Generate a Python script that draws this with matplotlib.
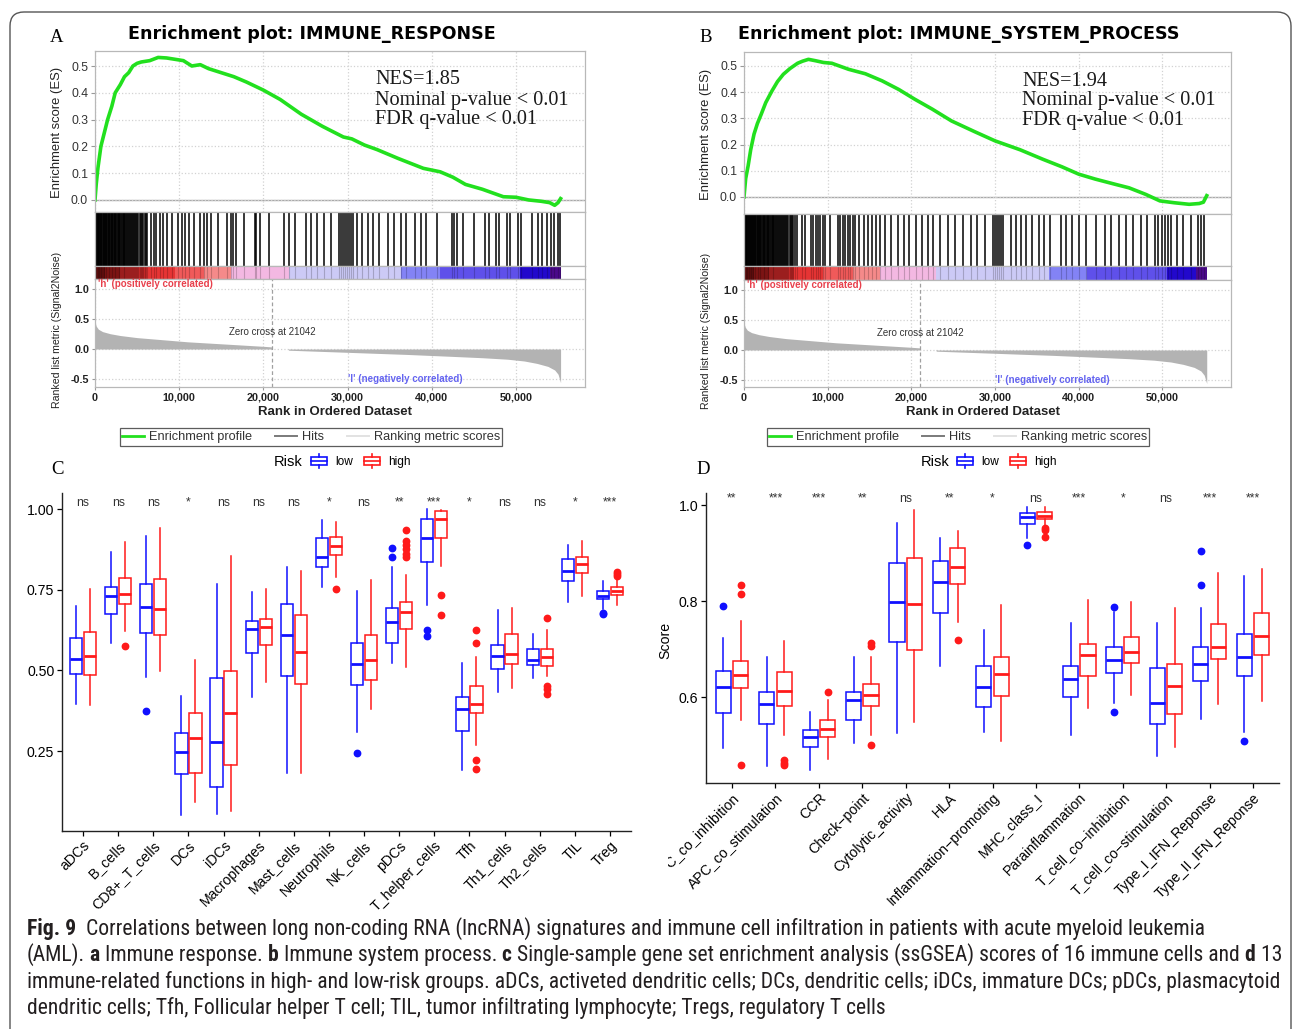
import numpy as np
import matplotlib
matplotlib.use("Agg")
import matplotlib.pyplot as plt
from matplotlib.patches import Rectangle, FancyBboxPatch, Patch
from matplotlib.lines import Line2D
from matplotlib.legend_handler import HandlerBase
from matplotlib.transforms import Bbox, IdentityTransform
from matplotlib.font_manager import FontProperties, fontManager

plt.rcParams['font.family'] = ['Liberation Sans', 'DejaVu Sans']

# ======================= DATA =======================
N_GENES = 55300
ZERO_CROSS = 21042
rank_ticks = [0, 10000, 20000, 30000, 40000, 50000]
rank_tick_labels = ["0", "10,000", "20,000", "30,000", "40,000", "50,000"]
es_ticks = [0.0, 0.1, 0.2, 0.3, 0.4, 0.5]
metric_ticks = [1.0, 0.5, 0.0, -0.5]

# Panel A running enrichment score
es_a_rank = [0, 150, 350, 700, 1100, 1500, 2000, 2400, 3000, 3500, 4000, 4500, 5000, 5500, 6500, 7500,
             8500, 9500, 10500, 11500, 12500, 13500, 15000, 16500, 18000, 20000, 22000, 24500, 27000,
             29500, 30500, 32000, 33500, 36000, 39000, 41000, 42500, 44000, 46000, 48500, 50000, 51500,
             53000, 54000, 54600, 55000, 55300]
es_a_val = [0.0, 0.06, 0.12, 0.2, 0.25, 0.3, 0.35, 0.4, 0.43, 0.46, 0.475, 0.5, 0.51, 0.515, 0.52, 0.532,
            0.53, 0.525, 0.52, 0.5, 0.505, 0.49, 0.475, 0.46, 0.44, 0.41, 0.375, 0.32, 0.275, 0.235,
            0.228, 0.205, 0.188, 0.155, 0.118, 0.105, 0.085, 0.058, 0.04, 0.012, 0.01, 0.0, -0.005,
            -0.01, -0.02, -0.01, 0.005]
hits_a = [30, 90, 160, 220, 300, 380, 450, 520, 600, 690, 760, 850, 930, 1010, 1100, 1180, 1260, 1350,
          1440, 1520, 1610, 1700, 1790, 1880, 1960, 2050, 2150, 2240, 2330, 2420, 2520, 2610, 2700, 2800,
          2900, 3000, 3100, 3200, 3290, 3400, 3500, 3600, 3700, 3820, 3930, 4050, 4160, 4280, 4400, 4530,
          4650, 4780, 4900, 5030, 5150, 5300, 5450, 5600, 5750, 5900, 6050, 6200,
          6600, 7030, 7300, 7680, 8100, 8550, 9200, 9850, 10290, 10720, 11150, 11800, 12460, 12890,
          13320, 13760, 14630, 15710, 16140, 16360, 16800, 17660, 18970, 19180, 19620, 20700, 22440,
          23090, 23740, 25040, 25690, 26340, 27210, 28080, 28950, 29200, 29450, 29700, 29950, 30200,
          30450, 30680, 31120, 31770, 32420, 33070, 33720, 34810, 35460, 36330, 36980, 38060, 38710,
          39360, 40670, 42400, 42620, 43050, 43700, 45010, 46310, 46740, 47610, 48040, 48910, 49350,
          50210, 50650, 51950, 52600, 53040, 53690, 54120, 54550, 54990, 55200]

# Panel B running enrichment score
es_b_rank = [0, 200, 500, 800, 1200, 1600, 2050, 2600, 3350, 4000, 4700, 5500, 6400, 7000, 7700, 8500,
             9500, 10500, 12500, 14500, 16500, 18500, 20400, 22500, 24800, 27500, 30000, 33000, 35700,
             38000, 40000, 42000, 44400, 46000, 48000, 49700, 51400, 53200, 54400, 54900, 55300]
es_b_val = [0.0, 0.07, 0.12, 0.18, 0.24, 0.28, 0.315, 0.36, 0.405, 0.44, 0.468, 0.49, 0.51, 0.518, 0.525,
            0.52, 0.513, 0.51, 0.487, 0.47, 0.443, 0.41, 0.373, 0.335, 0.29, 0.25, 0.214, 0.18, 0.144,
            0.115, 0.087, 0.068, 0.048, 0.035, 0.01, -0.015, -0.022, -0.028, -0.025, -0.02, 0.005]
hits_b = [40, 110, 180, 250, 330, 400, 470, 550, 630, 700, 780, 860, 940, 1020, 1110, 1190, 1270, 1360,
          1450, 1530, 1620, 1710, 1800, 1890, 1970, 2060, 2160, 2250, 2340, 2430, 2530, 2620, 2710, 2810,
          2910, 3010, 3110, 3210, 3300, 3410, 3510, 3610, 3710, 3830, 3940, 4060, 4170, 4290, 4410, 4540,
          4660, 4790, 4910, 5040, 5160, 5310, 5460, 5610, 5760, 5910, 6060, 6300,
          6900, 7300, 7950, 8250, 8550, 8800, 9100, 9400, 9700, 10300, 11200, 11500, 11800, 12100,
          12400, 12700, 13000, 13300, 13800, 14300, 14800, 15300, 15800, 16300, 16900, 17600, 18400,
          19100, 19700, 20600, 21300, 22000, 22600, 23400, 24400, 25200, 26200, 27100, 27900, 28800,
          29700, 29950, 30200, 30450, 30700, 30900, 31900, 32500, 33100, 33700, 34400, 35300, 35900,
          36600, 37900, 38500, 39200, 40000, 40900, 42100, 43200, 43900, 44800, 45600, 46500, 47400,
          48200, 49100, 49500, 49900, 50300, 50700, 51000, 51700, 52500, 53400, 54200, 54600, 55000]

# Ranked list metric (shared by A and B)
metric_rank = [0, 150, 400, 900, 1800, 3000, 5000, 8000, 11000, 14000, 17000, 20000, 21000, 21042,
               22900, 23000, 27000, 32000, 37000, 42000, 46000, 49000, 51000, 52500, 53800, 54600,
               55000, 55300]
metric_val = [0.45, 0.38, 0.33, 0.29, 0.255, 0.225, 0.19, 0.155, 0.12, 0.095, 0.07, 0.045, 0.035, 0.0,
              0.0, -0.02, -0.04, -0.065, -0.09, -0.12, -0.145, -0.17, -0.2, -0.24, -0.29, -0.35,
              -0.42, -0.56]
cbar_edges = [0, 1200, 3000, 6000, 9500, 13000, 16200, 23000, 36400, 41000, 50500, 54000, 55300]
cbar_colors = ['#7a1414', '#a01c1c', '#c82828', '#e63434', '#f05a5a', '#f58a8a', '#f3b8e2',
               '#cccaf6', '#8383f5', '#5f50ea', '#2208cc', '#4a0a8a']

# Panel C: ssGSEA immune cells  [whislo, q1, median, q3, whishi]
c_cats = ["aDCs", "B_cells", "CD8+_T_cells", "DCs", "iDCs", "Macrophages", "Mast_cells", "Neutrophils",
          "NK_cells", "pDCs", "T_helper_cells", "Tfh", "Th1_cells", "Th2_cells", "TIL", "Treg"]
c_low = [[0.397, 0.49, 0.536, 0.599, 0.70], [0.586, 0.676, 0.73, 0.759, 0.868],
         [0.479, 0.616, 0.695, 0.768, 0.917], [0.051, 0.178, 0.247, 0.305, 0.42],
         [0.056, 0.138, 0.278, 0.476, 0.767], [0.418, 0.554, 0.628, 0.653, 0.744],
         [0.183, 0.482, 0.611, 0.705, 0.822], [0.758, 0.82, 0.851, 0.909, 0.965],
         [0.31, 0.455, 0.519, 0.586, 0.747], [0.523, 0.586, 0.649, 0.694, 0.822],
         [0.702, 0.837, 0.91, 0.969, 1.0], [0.191, 0.312, 0.38, 0.419, 0.524],
         [0.433, 0.504, 0.544, 0.578, 0.687], [0.476, 0.516, 0.533, 0.566, 0.612],
         [0.712, 0.777, 0.809, 0.844, 0.889], [0.689, 0.721, 0.732, 0.746, 0.777]]
c_low_out = [[], [], [0.374], [], [], [], [], [], [0.245], [0.881, 0.853], [0.624, 0.608], [], [], [],
             [], [0.679, 0.674]]
c_high = [[0.392, 0.487, 0.545, 0.619, 0.751], [0.622, 0.707, 0.737, 0.787, 0.899],
          [0.497, 0.609, 0.689, 0.782, 0.941], [0.091, 0.181, 0.291, 0.369, 0.531],
          [0.065, 0.207, 0.369, 0.498, 0.855], [0.464, 0.579, 0.635, 0.659, 0.751],
          [0.183, 0.459, 0.557, 0.673, 0.809], [0.79, 0.857, 0.886, 0.913, 0.96],
          [0.379, 0.469, 0.531, 0.611, 0.78], [0.51, 0.628, 0.682, 0.713, 0.796],
          [0.824, 0.91, 0.969, 0.993, 0.998], [0.269, 0.367, 0.397, 0.451, 0.541],
          [0.446, 0.521, 0.552, 0.614, 0.692], [0.484, 0.515, 0.541, 0.565, 0.624],
          [0.73, 0.801, 0.83, 0.851, 0.901], [0.704, 0.733, 0.746, 0.759, 0.785]]
c_high_out = [[], [0.576], [], [], [], [], [], [0.751], [], [0.936, 0.9, 0.889, 0.876, 0.86, 0.853],
              [0.735, 0.671], [0.624, 0.585, 0.222, 0.194], [], [0.661, 0.452, 0.443, 0.428], [],
              [0.806, 0.799, 0.793]]
c_sig = ["ns", "ns", "ns", "*", "ns", "ns", "ns", "*", "ns", "**", "***", "*", "ns", "ns", "*", "***"]
c_yticks = [0.25, 0.50, 0.75, 1.00]

# Panel D: immune-related functions
d_cats = ["APC_co_inhibition", "APC_co_stimulation", "CCR", "Check\u2212point", "Cytolytic_activity",
          "HLA", "Inflammation\u2212promoting", "MHC_class_I", "Parainflammation",
          "T_cell_co\u2212inhibition", "T_cell_co\u2212stimulation", "Type_I_IFN_Reponse",
          "Type_II_IFN_Reponse"]
d_low = [[0.494, 0.567, 0.621, 0.654, 0.722], [0.457, 0.543, 0.585, 0.610, 0.684],
         [0.448, 0.496, 0.516, 0.532, 0.569], [0.504, 0.552, 0.594, 0.610, 0.683],
         [0.525, 0.714, 0.797, 0.88, 0.962], [0.664, 0.776, 0.839, 0.884, 0.932],
         [0.527, 0.579, 0.621, 0.664, 0.74], [0.932, 0.96, 0.976, 0.984, 0.995],
         [0.52, 0.601, 0.638, 0.665, 0.754], [0.588, 0.651, 0.678, 0.704, 0.778],
         [0.478, 0.544, 0.588, 0.66, 0.754], [0.554, 0.634, 0.669, 0.705, 0.785],
         [0.527, 0.644, 0.683, 0.731, 0.852]]
d_low_out = [[0.79], [], [], [], [], [], [], [0.916], [], [0.787, 0.569], [], [0.904, 0.833], [0.509]]
d_high = [[0.552, 0.618, 0.645, 0.675, 0.758], [0.522, 0.581, 0.613, 0.653, 0.716],
          [0.47, 0.517, 0.534, 0.553, 0.594], [0.522, 0.581, 0.605, 0.628, 0.683],
          [0.549, 0.698, 0.793, 0.89, 0.99], [0.757, 0.835, 0.87, 0.911, 0.946],
          [0.508, 0.603, 0.648, 0.684, 0.792], [0.958, 0.971, 0.977, 0.985, 0.995],
          [0.577, 0.643, 0.687, 0.711, 0.803], [0.605, 0.671, 0.694, 0.725, 0.799],
          [0.496, 0.565, 0.624, 0.669, 0.785], [0.585, 0.679, 0.705, 0.752, 0.859],
          [0.592, 0.688, 0.727, 0.776, 0.866]]
d_high_out = [[0.833, 0.814, 0.459], [0.469, 0.463, 0.459], [0.610], [0.712, 0.707, 0.50], [], [0.719],
              [], [0.953, 0.948, 0.934], [], [], [], [], []]
d_sig = ["**", "***", "***", "**", "ns", "**", "*", "ns", "***", "*", "ns", "***", "***"]
d_yticks = [0.6, 0.8, 1.0]

caption_lines = [
    [("Fig. 9", True), ("  Correlations between long non-coding RNA (lncRNA) signatures and immune cell "
                        "infiltration in patients with acute myeloid leukemia", False)],
    [("(AML).", False), (" a", True), (" Immune response.", False), (" b", True),
     (" Immune system process.", False), (" c", True),
     (" Single-sample gene set enrichment analysis (ssGSEA) scores of 16 immune cells and", False),
     (" d", True), (" 13", False)],
    [("immune-related functions in high- and low-risk groups. aDCs, activeted dendritic cells; DCs, "
      "dendritic cells; iDCs, immature DCs; pDCs, plasmacytoid", False)],
    [("dendritic cells; Tfh, Follicular helper T cell; TIL, tumor infiltrating lymphocyte; Tregs, "
      "regulatory T cells", False)],
]

# ======================= STYLE =======================
W, H = 1293, 1029
DPI = 100
GREEN = '#22e01e'
LOW_C = '#1010ff'
HIGH_C = '#ff1a1a'
FRAME = '#b8b8b8'
GRID = '#d2d2d2'
SERIF = ['Liberation Serif', 'DejaVu Serif']

fig = plt.figure(figsize=(W / DPI, H / DPI), dpi=DPI)


def ax_px(x0, y0, x1, y1):
    return fig.add_axes([x0 / W, 1 - y1 / H, (x1 - x0) / W, (y1 - y0) / H])


def ftext(x, y, s, **kw):
    return fig.text(x / W, 1 - y / H, s, **kw)


XMAX = 58200


def style_frame(a):
    for s in a.spines.values():
        s.set_color(FRAME)
        s.set_linewidth(0.9)


def gsea_panel(x0, x1, y_top, y_es, y_hit, y_cb, y_bot, es_lim, rk_lim, es_rank, es_val, hits,
               letter, title, title_x, nes, txt_x, txt_y, leg_cx):
    # --- ES axes
    ax = ax_px(x0, y_top, x1, y_es)
    ax.plot(es_rank, es_val, color=GREEN, lw=2.6, solid_joinstyle='round')
    ax.axhline(0, color='#a9a9a9', lw=1.0, zorder=0)
    ax.set_xlim(0, XMAX)
    ax.set_ylim(*es_lim)
    ax.set_xticks(rank_ticks)
    ax.set_yticks(es_ticks)
    ax.set_yticklabels([f"{v:.1f}" for v in es_ticks])
    ax.grid(True, ls=':', color=GRID, lw=0.9)
    ax.set_axisbelow(True)
    ax.tick_params(axis='x', length=0, labelbottom=False)
    ax.tick_params(axis='y', length=3, color='#999999', labelsize=8.8, labelcolor='#333333', pad=2)
    style_frame(ax)
    # --- hits
    axh = ax_px(x0, y_es, x1, y_hit)
    axh.vlines(hits, 0, 1, color='black', lw=1.1)
    axh.set_xlim(0, XMAX)
    axh.set_ylim(0, 1)
    axh.set_xticks([])
    axh.set_yticks([])
    style_frame(axh)
    # --- colour bar
    axc = ax_px(x0, y_hit, x1, y_cb)
    for i, col in enumerate(cbar_colors):
        axc.axvspan(cbar_edges[i], cbar_edges[i + 1], color=col, lw=0)
    axc.vlines(hits, 0, 1, color='black', lw=0.8, alpha=0.2)
    axc.set_xlim(0, XMAX)
    axc.set_ylim(0, 1)
    axc.set_xticks([])
    axc.set_yticks([])
    style_frame(axc)
    # --- ranked metric
    axr = ax_px(x0, y_cb, x1, y_bot)
    axr.fill_between(metric_rank, metric_val, 0, color='#b3b3b3', lw=0)
    axr.axvline(ZERO_CROSS, color='#a0a0a0', lw=0.9, ls=(0, (3, 2)))
    axr.set_xlim(0, XMAX)
    axr.set_ylim(*rk_lim)
    axr.set_xticks(rank_ticks)
    axr.set_xticklabels(rank_tick_labels)
    axr.set_yticks(metric_ticks)
    axr.set_yticklabels([f"{v:.1f}" for v in metric_ticks])
    axr.grid(True, ls=':', color=GRID, lw=0.9)
    axr.set_axisbelow(True)
    axr.tick_params(length=2, color='#999999', labelsize=7.8, labelcolor='#222222', pad=2)
    for lab in axr.get_xticklabels() + axr.get_yticklabels():
        lab.set_fontweight('bold')
    style_frame(axr)
    axr.text(300, 1.083, "'h' (positively correlated)", color='#e8404c', fontsize=7,
             fontweight='bold', va='center', ha='left')
    axr.text(36800, -0.5, "'l' (negatively correlated)", color='#6464f0', fontsize=7,
             fontweight='bold', va='center', ha='center')
    axr.text(ZERO_CROSS, 0.28, f"Zero cross at {ZERO_CROSS}", color='#333333', fontsize=7,
             va='center', ha='center')
    # --- texts
    ftext(x0 - 38, (y_top + y_es) / 2 + 1, "Enrichment score (ES)", rotation=90, ha='center',
          va='center', fontsize=9.4, color='#222222')
    ftext(x0 - 38, (y_cb + y_bot) / 2 - 3, "Ranked list metric (Signal2Noise)", rotation=90,
          ha='center', va='center', fontsize=7.6, color='#222222')
    ftext((x0 + x1) / 2 - 5, 412, "Rank in Ordered Dataset", ha='center', va='center',
          fontsize=9.5, fontweight='bold', color='#222222')
    ftext(x0 - 38, 37, letter, ha='center', va='center', fontsize=13.5, family=SERIF)
    ftext(title_x, 34, title, ha='center', va='center', fontsize=12.6, fontweight='bold',
          family=['DejaVu Sans'])
    for k, line in enumerate(["NES=" + nes, "Nominal p-value < 0.01", "FDR q-value < 0.01"]):
        ftext(txt_x, txt_y + 20 * k, line, ha='left', va='center', fontsize=14.6, family=SERIF,
              color='#1a1a1a')
    handles = [Line2D([], [], color=GREEN, lw=2), Line2D([], [], color='#7a7a7a', lw=1.4),
               Line2D([], [], color='#e2e2e2', lw=1.4)]
    leg = fig.legend(handles, ["Enrichment profile", "Hits", "Ranking metric scores"], loc='center',
                     bbox_to_anchor=(leg_cx / W, 1 - 437 / H), ncol=3, fontsize=9.2, frameon=True,
                     fancybox=False, edgecolor='#333333', handlelength=1.7, handletextpad=0.4,
                     columnspacing=1.8, borderpad=0.2)
    leg.get_frame().set_linewidth(0.9)
    for t in leg.get_texts():
        t.set_color('#333333')


gsea_panel(95, 585, 51, 212, 266, 279, 387, (-0.045, 0.556), (-0.633, 1.167), es_a_rank, es_a_val,
           hits_a, "A", "Enrichment plot: IMMUNE_RESPONSE", 312, "1.85", 375, 80, 311)
gsea_panel(744, 1231, 52, 214, 266, 280, 387, (-0.065, 0.553), (-0.617, 1.167), es_b_rank, es_b_val,
           hits_b, "B", "Enrichment plot: IMMUNE_SYSTEM_PROCESS", 959, "1.94", 1022, 81, 958)


# ======================= BOX PANELS =======================
class BoxGlyph(HandlerBase):
    def create_artists(self, legend, orig_handle, xdescent, ydescent, width, height, fontsize, trans):
        c = orig_handle.get_edgecolor()
        x0, y0, h = -xdescent, -ydescent, height
        rect = Rectangle((x0, y0 + 0.05 * h), width, 0.9 * h, facecolor='white', edgecolor=c, lw=1.2,
                         transform=trans)
        med = Line2D([x0, x0 + width], [y0 + 0.5 * h] * 2, color=c, lw=1.2, transform=trans)
        w1 = Line2D([x0 + width / 2] * 2, [y0 - 0.3 * h, y0 + 0.05 * h], color=c, lw=1.2,
                    transform=trans)
        w2 = Line2D([x0 + width / 2] * 2, [y0 + 0.95 * h, y0 + 1.3 * h], color=c, lw=1.2,
                    transform=trans)
        return [rect, med, w1, w2]


def box_panel(x0, y0, x1, y1, ylim, cats, low, low_out, high, high_out, sig, yticks, ytfmt,
              letter, letter_x, risk_x, leg_x, ylabel=None):
    ax = ax_px(x0, y0, x1, y1)
    n = len(cats)
    pos = np.arange(1, n + 1)
    for stats_list, outs, off, col in [(low, low_out, -0.2, LOW_C), (high, high_out, 0.2, HIGH_C)]:
        stats = [dict(whislo=s[0], q1=s[1], med=s[2], q3=s[3], whishi=s[4], fliers=o)
                 for s, o in zip(stats_list, outs)]
        ax.bxp(stats, positions=pos + off, widths=0.35, showcaps=False, patch_artist=True,
               manage_ticks=False,
               boxprops=dict(facecolor='white', edgecolor=col, linewidth=1.1),
               medianprops=dict(color=col, linewidth=2.0),
               whiskerprops=dict(color=col, linewidth=1.1),
               flierprops=dict(marker='o', markerfacecolor=col, markeredgecolor=col, markersize=4.6,
                               linestyle='none'))
    for i, s in enumerate(sig):
        ax.text(pos[i], yticks[-1] + 0.001, s, ha='center', va='bottom', fontsize=8.8, color='#333333')
    ax.set_xlim(0.4, n + 0.6)
    ax.set_ylim(*ylim)
    ax.set_yticks(yticks)
    ax.set_yticklabels([ytfmt.format(v) for v in yticks])
    ax.set_xticks(pos)
    ax.set_xticklabels(cats, rotation=45, ha='right', va='top', rotation_mode='anchor')
    ax.tick_params(length=3.5, width=0.9, labelsize=10.2, labelcolor='black', pad=2)
    for k in ['top', 'right']:
        ax.spines[k].set_visible(False)
    for k in ['left', 'bottom']:
        ax.spines[k].set_linewidth(1.0)
        ax.spines[k].set_color('#222222')
    if ylabel:
        ftext(x0 - 41, (y0 + y1) / 2 + 2, ylabel, rotation=90, ha='center', va='center',
              fontsize=10.2)
    ftext(letter_x, 469, letter, ha='center', va='center', fontsize=13.5, family=SERIF)
    ftext(risk_x, 462, "Risk", ha='center', va='center', fontsize=10.5)
    h_low = Patch(edgecolor=LOW_C, facecolor='white')
    h_high = Patch(edgecolor=HIGH_C, facecolor='white')
    fig.legend([h_low, h_high], ["low", "high"], loc='center left',
               bbox_to_anchor=(leg_x / W, 1 - 462 / H), ncol=2, fontsize=8.6, frameon=False,
               handlelength=1.35, handleheight=0.75, handletextpad=0.7, columnspacing=0.9,
               borderpad=0, borderaxespad=0,
               handler_map={h_low: BoxGlyph(), h_high: BoxGlyph()})
    return ax


axC = box_panel(62, 493, 631, 831, (0.002, 1.05), c_cats, c_low, c_low_out, c_high, c_high_out, c_sig,
                c_yticks, "{:.2f}", "C", 57, 288, 311)
axD = box_panel(706, 493, 1279, 783, (0.421, 1.025), d_cats, d_low, d_low_out, d_high, d_high_out,
                d_sig, d_yticks, "{:.1f}", "D", 703, 935, 957, ylabel="Score")

# clip the first D label like the cropped original panel
clip = Bbox([[668, 0], [W, H]])
first = axD.get_xticklabels()[0]
first.set_clip_on(True)
first.set_clip_box(clip)

# ======================= FRAME & CAPTION =======================
border = FancyBboxPatch((10, H - 1045), 1281, 1033, boxstyle='round,pad=0,rounding_size=14',
                        transform=IdentityTransform(), facecolor='none', edgecolor='#555555',
                        lw=1.0, clip_on=False)
fig.add_artist(border)


def pick_caption_font():
    entries = fontManager.ttflist
    names = {f.name for f in entries}
    for cand in ['Liberation Sans Narrow', 'Roboto Condensed', 'Open Sans Condensed',
                 'DejaVu Sans Condensed']:
        if cand in names:
            return cand, 'normal'
    for f in entries:
        if f.name == 'DejaVu Sans' and str(f.stretch) in ('condensed', 'semi-condensed'):
            return 'DejaVu Sans', 'condensed'
    return 'Liberation Sans', 'normal'


cap_family, cap_stretch = pick_caption_font()
fig.canvas.draw()
renderer = fig.canvas.get_renderer()


def cap_fp(bold, size):
    return FontProperties(family=[cap_family, 'DejaVu Sans'], stretch=cap_stretch,
                          weight='bold' if bold else 'normal', size=size)


tmp = ftext(27, 988, caption_lines[2][0][0], fontproperties=cap_fp(False, 10))
wref = tmp.get_window_extent(renderer).width
tmp.remove()
cap_size = 10 * 1247 / wref

baselines = [935, 961, 988, 1014]
for line, base in zip(caption_lines, baselines):
    x = 27
    for txt, bold in line:
        t = ftext(x, base, txt, fontproperties=cap_fp(bold, cap_size), color='#231f20', ha='left',
                  va='baseline')
        x += t.get_window_extent(renderer).width

fig.savefig('out.png', dpi=DPI)
